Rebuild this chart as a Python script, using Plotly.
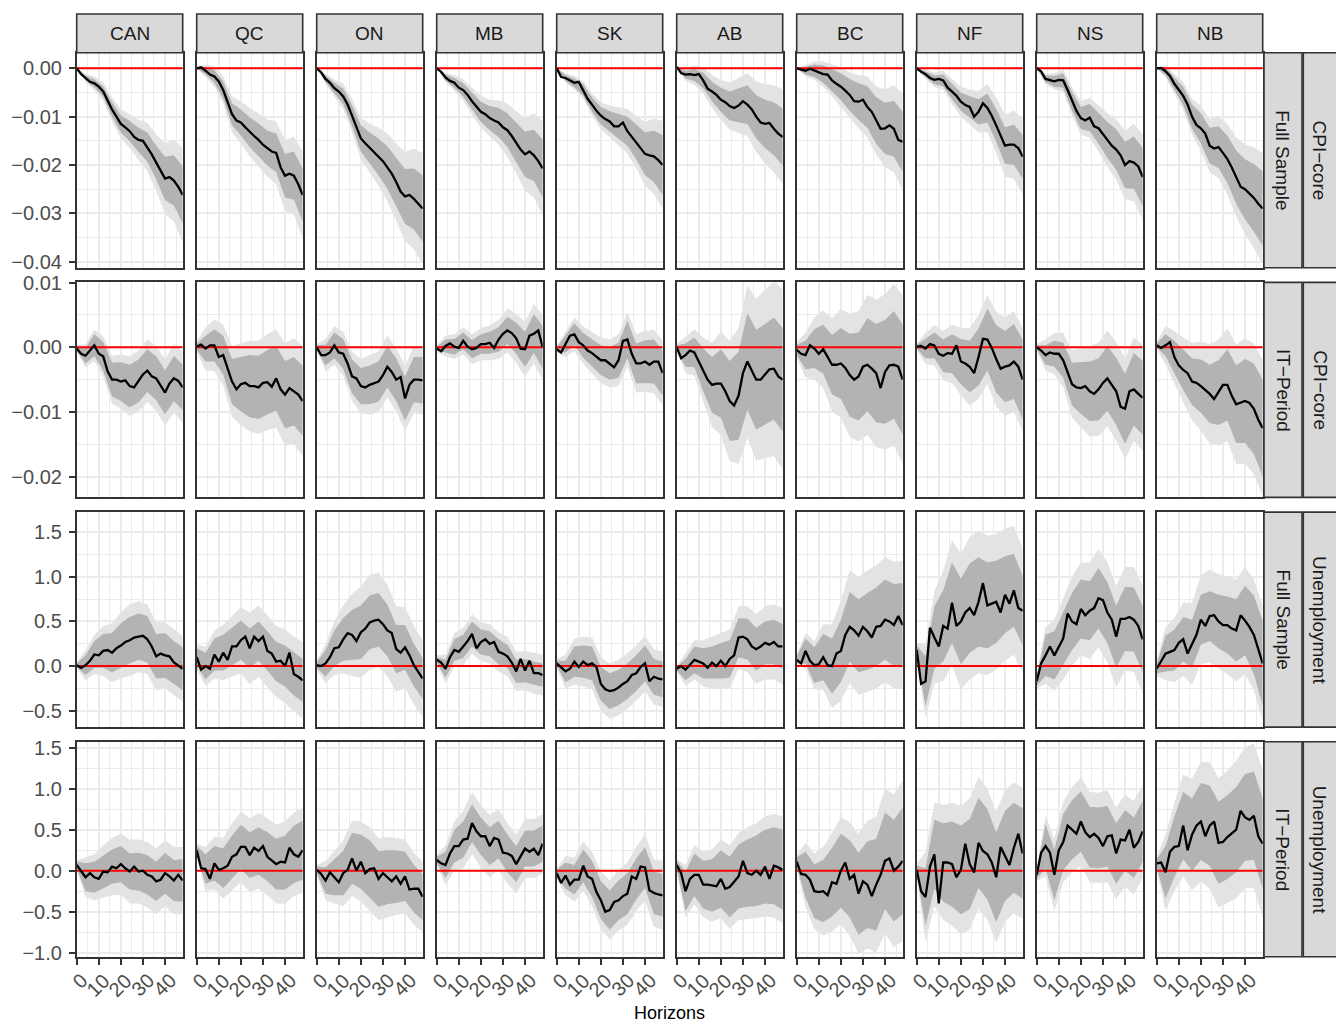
import plotly.graph_objects as go

# ---------------------------------------------------------------- data
HORIZONS = list(range(0, 49, 2))        # line points
BAND_HORIZONS = list(range(0, 49, 4))   # band points
REGIONS = ["CAN", "QC", "ON", "MB", "SK", "AB", "BC", "NF", "NS", "NB"]
ROW_VARIABLE = ["CPI\u2212core", "CPI\u2212core", "Unemployment", "Unemployment"]
ROW_SAMPLE = ["Full Sample", "IT\u2212Period", "Full Sample", "IT\u2212Period"]
X_TICKS = [0, 10, 20, 30, 40]
REF_LEVEL = 0.0
X_TITLE = "Horizons"

# ---- CPI-core, Full Sample
CPI_FULL_LINE = dict(
    CAN=[0, -0.0012, -0.0020, -0.0028, -0.0031, -0.0038, -0.0048, -0.0068, -0.0085, -0.0100, -0.0115, -0.0122, -0.0130, -0.0142, -0.0148, -0.0150, -0.0163, -0.0178, -0.0195, -0.0212, -0.0228, -0.0225, -0.0232, -0.0245, -0.0262],
    QC=[0, 0.0002, -0.0005, -0.0013, -0.0017, -0.0027, -0.0045, -0.0070, -0.0095, -0.0108, -0.0112, -0.0122, -0.0132, -0.0140, -0.0148, -0.0158, -0.0165, -0.0172, -0.0175, -0.0205, -0.0222, -0.0218, -0.0222, -0.0240, -0.0262],
    ON=[0, -0.0008, -0.0022, -0.0030, -0.0041, -0.0048, -0.0058, -0.0075, -0.0098, -0.0120, -0.0145, -0.0155, -0.0165, -0.0175, -0.0183, -0.0192, -0.0205, -0.0218, -0.0235, -0.0255, -0.0265, -0.0262, -0.0270, -0.0280, -0.0290],
    MB=[0, -0.0007, -0.0019, -0.0026, -0.0030, -0.0040, -0.0045, -0.0055, -0.0068, -0.0080, -0.0090, -0.0095, -0.0103, -0.0108, -0.0112, -0.0122, -0.0128, -0.0140, -0.0153, -0.0168, -0.0178, -0.0172, -0.0180, -0.0192, -0.0207],
    SK=[0, -0.0018, -0.0020, -0.0025, -0.0030, -0.0028, -0.0045, -0.0063, -0.0075, -0.0088, -0.0098, -0.0105, -0.0110, -0.0120, -0.0120, -0.0112, -0.0130, -0.0142, -0.0152, -0.0165, -0.0177, -0.0180, -0.0182, -0.0190, -0.0200],
    AB=[0.0003, -0.0010, -0.0013, -0.0012, -0.0014, -0.0012, -0.0025, -0.0042, -0.0048, -0.0055, -0.0065, -0.0070, -0.0078, -0.0082, -0.0077, -0.0068, -0.0075, -0.0085, -0.0100, -0.0112, -0.0115, -0.0113, -0.0125, -0.0135, -0.0142],
    BC=[0, -0.0002, -0.0005, -0.0001, -0.0005, -0.0008, -0.0012, -0.0013, -0.0025, -0.0032, -0.0038, -0.0046, -0.0055, -0.0068, -0.0069, -0.0065, -0.0080, -0.0090, -0.0108, -0.0125, -0.0124, -0.0118, -0.0125, -0.0148, -0.0152],
    NF=[0, -0.0007, -0.0012, -0.0020, -0.0024, -0.0022, -0.0025, -0.0040, -0.0048, -0.0057, -0.0069, -0.0076, -0.0080, -0.0100, -0.0090, -0.0072, -0.0082, -0.0098, -0.0118, -0.0140, -0.0160, -0.0158, -0.0158, -0.0165, -0.0183],
    NS=[0, -0.0006, -0.0022, -0.0025, -0.0027, -0.0024, -0.0025, -0.0045, -0.0068, -0.0088, -0.0103, -0.0108, -0.0102, -0.0120, -0.0124, -0.0135, -0.0148, -0.0160, -0.0168, -0.0180, -0.0200, -0.0192, -0.0195, -0.0203, -0.0225],
    NB=[0, 0.0001, -0.0006, -0.0016, -0.0032, -0.0044, -0.0057, -0.0075, -0.0100, -0.0117, -0.0124, -0.0135, -0.0160, -0.0166, -0.0163, -0.0175, -0.0188, -0.0205, -0.0225, -0.0245, -0.0250, -0.0258, -0.0268, -0.0280, -0.0290],
)
CPI_FULL_INNER = dict(
    CAN=[0, 0.0005, 0.0008, 0.0011, 0.0015, 0.0018, 0.0021, 0.0025, 0.0030, 0.0035, 0.0045, 0.0052, 0.0059],
    QC=[0, 0.0008, 0.0013, 0.0018, 0.0023, 0.0027, 0.0031, 0.0034, 0.0036, 0.0040, 0.0045, 0.0050, 0.0055],
    ON=[0, 0.0006, 0.0011, 0.0016, 0.0022, 0.0027, 0.0032, 0.0038, 0.0044, 0.0050, 0.0057, 0.0063, 0.0069],
    MB=[0, 0.0006, 0.0010, 0.0014, 0.0018, 0.0021, 0.0025, 0.0030, 0.0035, 0.0040, 0.0047, 0.0053, 0.0060],
    SK=[0, 0.0006, 0.0009, 0.0012, 0.0015, 0.0018, 0.0021, 0.0025, 0.0030, 0.0036, 0.0044, 0.0053, 0.0062],
    AB=[0, 0.0008, 0.0012, 0.0016, 0.0020, 0.0025, 0.0030, 0.0035, 0.0040, 0.0045, 0.0050, 0.0055, 0.0059],
    BC=[0, 0.0008, 0.0013, 0.0018, 0.0023, 0.0028, 0.0033, 0.0038, 0.0043, 0.0048, 0.0053, 0.0058, 0.0062],
    NF=[0, 0.0006, 0.0009, 0.0012, 0.0016, 0.0019, 0.0022, 0.0026, 0.0030, 0.0034, 0.0038, 0.0042, 0.0045],
    NS=[0, 0.0007, 0.0011, 0.0015, 0.0019, 0.0023, 0.0028, 0.0032, 0.0037, 0.0042, 0.0048, 0.0054, 0.0060],
    NB=[0, 0.0008, 0.0013, 0.0019, 0.0025, 0.0031, 0.0037, 0.0043, 0.0049, 0.0055, 0.0062, 0.0070, 0.0077],
)
CPI_FULL_OUTER = dict(
    CAN=[0, 0.0009, 0.0014, 0.0019, 0.0025, 0.0030, 0.0035, 0.0042, 0.0050, 0.0058, 0.0073, 0.0085, 0.0097],
    QC=[0, 0.0013, 0.0021, 0.0029, 0.0037, 0.0044, 0.0050, 0.0055, 0.0059, 0.0065, 0.0073, 0.0081, 0.0090],
    ON=[0, 0.0010, 0.0018, 0.0026, 0.0035, 0.0043, 0.0051, 0.0060, 0.0070, 0.0080, 0.0092, 0.0104, 0.0115],
    MB=[0, 0.0010, 0.0016, 0.0022, 0.0028, 0.0033, 0.0038, 0.0046, 0.0055, 0.0064, 0.0076, 0.0087, 0.0098],
    SK=[0, 0.0010, 0.0014, 0.0018, 0.0023, 0.0028, 0.0033, 0.0039, 0.0046, 0.0054, 0.0066, 0.0078, 0.0091],
    AB=[0, 0.0013, 0.0020, 0.0027, 0.0034, 0.0041, 0.0049, 0.0057, 0.0065, 0.0073, 0.0082, 0.0090, 0.0098],
    BC=[0, 0.0012, 0.0019, 0.0026, 0.0033, 0.0040, 0.0047, 0.0055, 0.0063, 0.0071, 0.0080, 0.0090, 0.0100],
    NF=[0, 0.0010, 0.0015, 0.0020, 0.0026, 0.0031, 0.0036, 0.0043, 0.0050, 0.0057, 0.0064, 0.0071, 0.0078],
    NS=[0, 0.0011, 0.0017, 0.0023, 0.0029, 0.0035, 0.0041, 0.0048, 0.0055, 0.0063, 0.0071, 0.0080, 0.0088],
    NB=[0, 0.0012, 0.0020, 0.0029, 0.0037, 0.0046, 0.0055, 0.0064, 0.0073, 0.0082, 0.0093, 0.0104, 0.0115],
)

# ---- CPI-core, IT-Period
CPI_IT_LINE = dict(
    CAN=[-0.0002, -0.0010, -0.0013, -0.0005, 0.0003, -0.0010, -0.0014, -0.0037, -0.0050, -0.0050, -0.0053, -0.0051, -0.0060, -0.0062, -0.0052, -0.0042, -0.0036, -0.0045, -0.0048, -0.0058, -0.0070, -0.0056, -0.0048, -0.0052, -0.0062],
    QC=[0.0001, 0.0004, -0.0002, 0.0003, 0.0003, -0.0015, -0.0012, -0.0032, -0.0053, -0.0065, -0.0057, -0.0055, -0.0060, -0.0060, -0.0062, -0.0055, -0.0054, -0.0061, -0.0048, -0.0065, -0.0073, -0.0063, -0.0068, -0.0073, -0.0083],
    ON=[0, -0.0012, -0.0012, -0.0008, 0.0003, -0.0008, -0.0010, -0.0025, -0.0045, -0.0048, -0.0060, -0.0062, -0.0058, -0.0056, -0.0053, -0.0043, -0.0030, -0.0038, -0.0050, -0.0046, -0.0079, -0.0058, -0.0050, -0.0050, -0.0051],
    MB=[-0.0002, -0.0006, 0.0002, 0.0006, 0.0001, -0.0001, 0.0010, 0.0001, -0.0003, -0.0001, 0.0005, 0.0005, 0.0007, -0.0001, 0.0012, 0.0021, 0.0026, 0.0022, 0.0014, -0.0002, -0.0003, 0.0018, 0.0021, 0.0026, 0.0000],
    SK=[-0.0003, -0.0008, 0.0005, 0.0018, 0.0020, 0.0008, 0.0003, -0.0005, -0.0009, -0.0015, -0.0020, -0.0020, -0.0025, -0.0031, -0.0020, 0.0010, 0.0012, -0.0010, -0.0025, -0.0025, -0.0022, -0.0027, -0.0022, -0.0022, -0.0040],
    AB=[0, -0.0017, -0.0012, -0.0005, -0.0008, -0.0022, -0.0035, -0.0050, -0.0058, -0.0056, -0.0056, -0.0068, -0.0083, -0.0090, -0.0075, -0.0040, -0.0022, -0.0035, -0.0050, -0.0050, -0.0042, -0.0034, -0.0033, -0.0045, -0.0050],
    BC=[-0.0004, -0.0010, -0.0012, 0.0003, -0.0002, -0.0010, -0.0003, -0.0015, -0.0027, -0.0027, -0.0025, -0.0032, -0.0043, -0.0050, -0.0045, -0.0030, -0.0027, -0.0033, -0.0040, -0.0063, -0.0038, -0.0028, -0.0027, -0.0030, -0.0050],
    NF=[0.0001, 0.0002, -0.0002, 0.0005, 0.0003, -0.0010, -0.0013, -0.0009, -0.0010, 0.0003, -0.0022, -0.0025, -0.0030, -0.0040, -0.0015, 0.0013, 0.0012, -0.0001, -0.0018, -0.0033, -0.0030, -0.0028, -0.0022, -0.0030, -0.0050],
    NS=[0, -0.0005, -0.0012, -0.0008, -0.0010, -0.0010, -0.0020, -0.0040, -0.0057, -0.0062, -0.0063, -0.0060, -0.0068, -0.0072, -0.0065, -0.0055, -0.0048, -0.0058, -0.0068, -0.0092, -0.0095, -0.0068, -0.0065, -0.0072, -0.0078],
    NB=[0.0003, -0.0001, 0.0003, 0.0008, -0.0015, -0.0028, -0.0035, -0.0040, -0.0053, -0.0055, -0.0060, -0.0066, -0.0072, -0.0080, -0.0070, -0.0058, -0.0058, -0.0075, -0.0088, -0.0085, -0.0083, -0.0086, -0.0095, -0.0112, -0.0125],
)
CPI_IT_INNER = dict(
    CAN=[0.0003, 0.0012, 0.0017, 0.0022, 0.0026, 0.0030, 0.0033, 0.0033, 0.0033, 0.0034, 0.0034, 0.0035, 0.0035],
    QC=[0.0005, 0.0020, 0.0025, 0.0030, 0.0035, 0.0042, 0.0048, 0.0049, 0.0050, 0.0050, 0.0052, 0.0053, 0.0054],
    ON=[0.0003, 0.0016, 0.0020, 0.0023, 0.0026, 0.0028, 0.0030, 0.0031, 0.0032, 0.0033, 0.0034, 0.0035, 0.0036],
    MB=[0.0003, 0.0010, 0.0012, 0.0013, 0.0014, 0.0015, 0.0017, 0.0019, 0.0021, 0.0024, 0.0027, 0.0030, 0.0033],
    SK=[0.0003, 0.0013, 0.0017, 0.0019, 0.0021, 0.0023, 0.0025, 0.0027, 0.0029, 0.0031, 0.0033, 0.0034, 0.0035],
    AB=[0.0003, 0.0018, 0.0023, 0.0033, 0.0043, 0.0053, 0.0062, 0.0068, 0.0075, 0.0077, 0.0078, 0.0079, 0.0080],
    BC=[0.0008, 0.0022, 0.0030, 0.0038, 0.0046, 0.0055, 0.0064, 0.0068, 0.0072, 0.0076, 0.0080, 0.0083, 0.0085],
    NF=[0.0003, 0.0015, 0.0020, 0.0025, 0.0030, 0.0035, 0.0040, 0.0044, 0.0048, 0.0052, 0.0055, 0.0058, 0.0062],
    NS=[0.0003, 0.0015, 0.0020, 0.0027, 0.0033, 0.0040, 0.0046, 0.0048, 0.0050, 0.0052, 0.0054, 0.0056, 0.0057],
    NB=[0.0003, 0.0017, 0.0025, 0.0031, 0.0036, 0.0041, 0.0045, 0.0050, 0.0055, 0.0060, 0.0065, 0.0070, 0.0075],
)
CPI_IT_OUTER = dict(
    CAN=[0.0005, 0.0018, 0.0024, 0.0031, 0.0037, 0.0042, 0.0046, 0.0047, 0.0048, 0.0050, 0.0051, 0.0053, 0.0055],
    QC=[0.0008, 0.0033, 0.0040, 0.0047, 0.0055, 0.0063, 0.0070, 0.0072, 0.0074, 0.0076, 0.0079, 0.0082, 0.0085],
    ON=[0.0005, 0.0025, 0.0030, 0.0034, 0.0038, 0.0042, 0.0046, 0.0047, 0.0048, 0.0049, 0.0050, 0.0052, 0.0053],
    MB=[0.0005, 0.0016, 0.0019, 0.0021, 0.0023, 0.0025, 0.0027, 0.0030, 0.0034, 0.0038, 0.0042, 0.0046, 0.0050],
    SK=[0.0005, 0.0020, 0.0026, 0.0029, 0.0032, 0.0035, 0.0037, 0.0040, 0.0042, 0.0045, 0.0047, 0.0049, 0.0050],
    AB=[0.0005, 0.0028, 0.0036, 0.0050, 0.0065, 0.0080, 0.0093, 0.0105, 0.0118, 0.0125, 0.0130, 0.0135, 0.0139],
    BC=[0.0012, 0.0035, 0.0048, 0.0060, 0.0072, 0.0084, 0.0095, 0.0101, 0.0108, 0.0114, 0.0120, 0.0125, 0.0130],
    NF=[0.0005, 0.0024, 0.0031, 0.0038, 0.0045, 0.0052, 0.0060, 0.0065, 0.0069, 0.0073, 0.0076, 0.0078, 0.0080],
    NS=[0.0005, 0.0024, 0.0032, 0.0042, 0.0052, 0.0061, 0.0070, 0.0072, 0.0074, 0.0076, 0.0078, 0.0080, 0.0082],
    NB=[0.0005, 0.0030, 0.0040, 0.0050, 0.0060, 0.0069, 0.0077, 0.0082, 0.0087, 0.0092, 0.0097, 0.0101, 0.0105],
)

# ---- Unemployment, Full Sample
UNEMP_FULL_LINE = dict(
    CAN=[0.01, -0.02, 0.01, 0.06, 0.13, 0.12, 0.17, 0.18, 0.15, 0.20, 0.23, 0.27, 0.29, 0.32, 0.33, 0.34, 0.30, 0.22, 0.11, 0.14, 0.12, 0.11, 0.04, 0.00, -0.03],
    QC=[0.10, -0.04, 0.00, -0.03, 0.13, 0.05, 0.15, 0.07, 0.22, 0.22, 0.29, 0.33, 0.20, 0.33, 0.28, 0.33, 0.17, 0.14, 0.05, 0.06, 0.00, 0.15, -0.09, -0.12, -0.16],
    ON=[0.01, 0.00, 0.03, 0.10, 0.20, 0.21, 0.30, 0.37, 0.35, 0.28, 0.38, 0.42, 0.49, 0.51, 0.52, 0.47, 0.40, 0.37, 0.19, 0.15, 0.21, 0.12, 0.01, -0.06, -0.14],
    MB=[0.07, 0.04, -0.03, 0.10, 0.18, 0.16, 0.22, 0.28, 0.36, 0.20, 0.27, 0.30, 0.25, 0.27, 0.16, 0.14, 0.11, 0.04, -0.06, 0.08, -0.05, 0.06, -0.08, -0.08, -0.10],
    SK=[0.03, -0.02, -0.06, -0.03, 0.05, -0.01, 0.05, 0.01, 0.03, -0.01, -0.20, -0.26, -0.28, -0.27, -0.24, -0.20, -0.17, -0.10, -0.08, -0.01, 0.03, -0.17, -0.12, -0.14, -0.15],
    AB=[-0.03, 0.00, -0.04, 0.02, 0.07, 0.05, 0.03, -0.02, 0.04, 0.00, 0.06, 0.00, 0.08, 0.12, 0.32, 0.33, 0.30, 0.22, 0.19, 0.22, 0.26, 0.24, 0.27, 0.22, 0.22],
    BC=[0.07, 0.03, 0.17, 0.06, 0.01, 0.02, 0.10, 0.01, 0.00, 0.14, 0.17, 0.35, 0.44, 0.40, 0.34, 0.44, 0.39, 0.32, 0.44, 0.45, 0.52, 0.50, 0.46, 0.56, 0.46],
    NF=[0.18, -0.20, -0.17, 0.43, 0.32, 0.22, 0.45, 0.42, 0.71, 0.45, 0.50, 0.60, 0.65, 0.57, 0.72, 0.93, 0.68, 0.70, 0.72, 0.60, 0.80, 0.70, 0.85, 0.65, 0.62],
    NS=[-0.17, 0.03, 0.12, 0.22, 0.12, 0.21, 0.31, 0.59, 0.50, 0.47, 0.64, 0.57, 0.62, 0.65, 0.76, 0.74, 0.60, 0.52, 0.33, 0.53, 0.53, 0.55, 0.52, 0.45, 0.30],
    NB=[-0.03, 0.05, 0.14, 0.16, 0.18, 0.26, 0.30, 0.14, 0.25, 0.35, 0.52, 0.45, 0.56, 0.57, 0.50, 0.46, 0.46, 0.42, 0.40, 0.57, 0.51, 0.44, 0.35, 0.19, 0.03],
)
UNEMP_FULL_INNER = dict(
    CAN=[0.02, 0.11, 0.15, 0.19, 0.22, 0.25, 0.26, 0.26, 0.26, 0.25, 0.25, 0.24, 0.24],
    QC=[0.10, 0.15, 0.18, 0.20, 0.21, 0.22, 0.22, 0.22, 0.22, 0.22, 0.23, 0.24, 0.24],
    ON=[0.03, 0.15, 0.20, 0.24, 0.28, 0.30, 0.30, 0.30, 0.29, 0.27, 0.25, 0.24, 0.23],
    MB=[0.03, 0.10, 0.12, 0.13, 0.14, 0.14, 0.14, 0.14, 0.13, 0.13, 0.13, 0.13, 0.13],
    SK=[0.03, 0.12, 0.17, 0.18, 0.19, 0.19, 0.20, 0.20, 0.20, 0.20, 0.20, 0.20, 0.20],
    AB=[0.02, 0.12, 0.15, 0.17, 0.18, 0.20, 0.21, 0.22, 0.23, 0.24, 0.24, 0.25, 0.25],
    BC=[0.04, 0.14, 0.20, 0.26, 0.31, 0.35, 0.39, 0.41, 0.43, 0.44, 0.45, 0.46, 0.47],
    NF=[0.05, 0.28, 0.35, 0.40, 0.45, 0.48, 0.50, 0.50, 0.48, 0.46, 0.43, 0.41, 0.39],
    NS=[0.05, 0.23, 0.27, 0.30, 0.32, 0.33, 0.33, 0.34, 0.34, 0.35, 0.36, 0.36, 0.37],
    NB=[0.05, 0.20, 0.23, 0.25, 0.27, 0.28, 0.28, 0.30, 0.32, 0.35, 0.39, 0.44, 0.48],
)
UNEMP_FULL_OUTER = dict(
    CAN=[0.03, 0.17, 0.22, 0.28, 0.33, 0.37, 0.40, 0.40, 0.39, 0.38, 0.37, 0.37, 0.37],
    QC=[0.14, 0.22, 0.27, 0.31, 0.34, 0.37, 0.40, 0.40, 0.40, 0.40, 0.41, 0.42, 0.43],
    ON=[0.05, 0.22, 0.30, 0.38, 0.46, 0.51, 0.53, 0.53, 0.51, 0.48, 0.45, 0.44, 0.43],
    MB=[0.05, 0.16, 0.19, 0.21, 0.22, 0.22, 0.22, 0.22, 0.22, 0.22, 0.22, 0.23, 0.23],
    SK=[0.05, 0.19, 0.26, 0.28, 0.29, 0.30, 0.31, 0.31, 0.31, 0.31, 0.31, 0.31, 0.31],
    AB=[0.03, 0.18, 0.22, 0.26, 0.29, 0.31, 0.33, 0.35, 0.37, 0.39, 0.41, 0.42, 0.43],
    BC=[0.06, 0.20, 0.27, 0.37, 0.47, 0.56, 0.63, 0.66, 0.68, 0.69, 0.70, 0.71, 0.72],
    NF=[0.08, 0.41, 0.52, 0.62, 0.70, 0.76, 0.80, 0.80, 0.78, 0.76, 0.74, 0.72, 0.70],
    NS=[0.08, 0.32, 0.40, 0.46, 0.50, 0.52, 0.54, 0.55, 0.56, 0.57, 0.58, 0.59, 0.60],
    NB=[0.08, 0.30, 0.36, 0.41, 0.46, 0.50, 0.52, 0.53, 0.55, 0.57, 0.60, 0.62, 0.65],
)

# ---- Unemployment, IT-Period
UNEMP_IT_LINE = dict(
    CAN=[0.07, 0.00, -0.08, -0.03, -0.08, -0.10, -0.01, -0.02, 0.05, 0.03, 0.08, 0.03, -0.01, 0.05, -0.01, 0.00, -0.05, -0.07, -0.13, -0.11, -0.03, -0.07, -0.12, -0.05, -0.12],
    QC=[0.25, 0.03, 0.02, -0.10, 0.09, 0.01, 0.03, 0.06, 0.17, 0.20, 0.29, 0.29, 0.19, 0.28, 0.24, 0.30, 0.17, 0.13, 0.08, 0.11, 0.10, 0.28, 0.20, 0.17, 0.25],
    ON=[0.01, -0.04, -0.12, -0.02, -0.08, -0.14, -0.03, 0.01, 0.15, 0.00, 0.11, -0.03, 0.02, 0.03, -0.10, -0.03, -0.08, -0.13, -0.07, -0.16, -0.07, -0.23, -0.22, -0.22, -0.32],
    MB=[0.13, 0.09, 0.07, 0.21, 0.30, 0.30, 0.38, 0.39, 0.58, 0.48, 0.42, 0.42, 0.30, 0.40, 0.38, 0.22, 0.21, 0.18, 0.08, 0.17, 0.27, 0.23, 0.27, 0.19, 0.33],
    SK=[-0.03, -0.15, -0.06, -0.17, -0.11, -0.11, 0.06, -0.07, -0.10, -0.26, -0.36, -0.50, -0.48, -0.38, -0.36, -0.31, -0.28, -0.07, -0.10, 0.05, 0.04, -0.24, -0.27, -0.29, -0.30],
    AB=[0.07, -0.03, -0.25, -0.10, -0.05, -0.05, -0.17, -0.17, -0.18, -0.19, -0.10, -0.22, -0.20, -0.14, -0.07, 0.12, -0.03, -0.05, 0.00, -0.05, 0.05, -0.10, 0.06, 0.04, 0.01],
    BC=[0.11, -0.04, -0.05, -0.11, -0.25, -0.26, -0.25, -0.30, -0.14, -0.16, 0.00, 0.10, -0.10, -0.05, -0.28, -0.13, -0.17, -0.31, -0.17, -0.05, 0.12, 0.15, 0.00, 0.05, 0.12],
    NF=[0.01, -0.25, -0.32, 0.05, 0.20, -0.40, 0.10, 0.10, 0.08, -0.08, 0.01, 0.33, 0.08, -0.02, 0.34, 0.24, 0.20, 0.10, -0.08, 0.29, 0.18, 0.07, 0.28, 0.45, 0.21],
    NS=[-0.05, 0.22, 0.30, 0.22, -0.05, 0.25, 0.35, 0.55, 0.50, 0.45, 0.60, 0.47, 0.41, 0.45, 0.40, 0.30, 0.42, 0.43, 0.21, 0.38, 0.37, 0.50, 0.28, 0.35, 0.48],
    NB=[0.09, 0.10, -0.02, 0.23, 0.29, 0.30, 0.55, 0.25, 0.44, 0.55, 0.60, 0.42, 0.55, 0.60, 0.34, 0.35, 0.41, 0.46, 0.50, 0.73, 0.65, 0.62, 0.67, 0.42, 0.33],
)
UNEMP_IT_INNER = dict(
    CAN=[0.04, 0.17, 0.19, 0.20, 0.21, 0.22, 0.22, 0.23, 0.24, 0.24, 0.25, 0.25, 0.26],
    QC=[0.05, 0.18, 0.21, 0.24, 0.26, 0.27, 0.28, 0.29, 0.30, 0.31, 0.33, 0.35, 0.36],
    ON=[0.04, 0.16, 0.22, 0.27, 0.31, 0.33, 0.35, 0.34, 0.33, 0.32, 0.30, 0.29, 0.28],
    MB=[0.04, 0.16, 0.20, 0.22, 0.23, 0.23, 0.23, 0.23, 0.23, 0.22, 0.22, 0.22, 0.22],
    SK=[0.04, 0.16, 0.18, 0.20, 0.22, 0.23, 0.24, 0.24, 0.25, 0.25, 0.25, 0.26, 0.26],
    AB=[0.05, 0.24, 0.26, 0.29, 0.32, 0.35, 0.37, 0.39, 0.41, 0.43, 0.45, 0.47, 0.49],
    BC=[0.05, 0.28, 0.33, 0.38, 0.42, 0.45, 0.47, 0.50, 0.53, 0.56, 0.59, 0.62, 0.65],
    NF=[0.05, 0.35, 0.42, 0.48, 0.52, 0.54, 0.55, 0.55, 0.55, 0.55, 0.55, 0.55, 0.55],
    NS=[0.05, 0.27, 0.31, 0.34, 0.36, 0.37, 0.37, 0.37, 0.37, 0.37, 0.37, 0.37, 0.37],
    NB=[0.05, 0.32, 0.37, 0.41, 0.44, 0.47, 0.49, 0.50, 0.51, 0.52, 0.53, 0.54, 0.55],
)
UNEMP_IT_OUTER = dict(
    CAN=[0.06, 0.24, 0.28, 0.32, 0.35, 0.37, 0.39, 0.39, 0.40, 0.40, 0.40, 0.41, 0.41],
    QC=[0.08, 0.27, 0.32, 0.37, 0.41, 0.43, 0.45, 0.46, 0.47, 0.48, 0.50, 0.51, 0.52],
    ON=[0.06, 0.24, 0.32, 0.40, 0.46, 0.49, 0.51, 0.50, 0.49, 0.47, 0.45, 0.44, 0.43],
    MB=[0.06, 0.24, 0.30, 0.35, 0.38, 0.38, 0.38, 0.37, 0.37, 0.36, 0.36, 0.36, 0.36],
    SK=[0.06, 0.24, 0.27, 0.30, 0.33, 0.35, 0.36, 0.37, 0.38, 0.39, 0.40, 0.41, 0.42],
    AB=[0.07, 0.32, 0.36, 0.40, 0.44, 0.48, 0.51, 0.53, 0.56, 0.58, 0.61, 0.63, 0.65],
    BC=[0.08, 0.39, 0.46, 0.54, 0.60, 0.65, 0.69, 0.73, 0.78, 0.83, 0.88, 0.93, 0.98],
    NF=[0.08, 0.55, 0.63, 0.70, 0.75, 0.78, 0.80, 0.80, 0.80, 0.80, 0.80, 0.80, 0.80],
    NS=[0.08, 0.37, 0.44, 0.49, 0.52, 0.54, 0.55, 0.55, 0.56, 0.56, 0.56, 0.57, 0.57],
    NB=[0.08, 0.46, 0.54, 0.62, 0.68, 0.73, 0.77, 0.79, 0.81, 0.84, 0.86, 0.88, 0.90],
)

ROWS = [
    (CPI_FULL_LINE, CPI_FULL_INNER, CPI_FULL_OUTER),
    (CPI_IT_LINE, CPI_IT_INNER, CPI_IT_OUTER),
    (UNEMP_FULL_LINE, UNEMP_FULL_INNER, UNEMP_FULL_OUTER),
    (UNEMP_IT_LINE, UNEMP_IT_INNER, UNEMP_IT_OUTER),
]

# ---------------------------------------------------------------- style / geometry
FIG_W, FIG_H = 1336, 1024
PANEL_X0, COL_STEP, PANEL_W = 76.7, 120.0, 106.0
PANEL_Y0, ROW_STEP, PANEL_H = 52.7, 229.7, 215.0
STRIP_TOP = 14.0
INNER_STRIP = (1264.0, 1302.0)
OUTER_STRIP = (1303.3, 1338.0)

X_RANGE = [0, 48]
Y_RANGES = [[-0.04124, 0.00323], [-0.0232, 0.01003], [-0.684, 1.726], [-1.05, 1.572]]
Y_DTICK = [0.01, 0.01, 0.5, 0.5]
Y_FMT = [".2f", ".2f", ".1f", ".1f"]

GRID = "#EBEBEB"
BORDER = "#333333"
STRIP_FILL = "#D9D9D9"
LIGHT = "#E3E3E3"
DARK = "#B3B3B3"
FONT = "Liberation Sans, Arial, Helvetica, sans-serif"
TICK_FONT = dict(family=FONT, size=20, color="#4D4D4D")
STRIP_FONT = dict(family=FONT, size=19, color="#1A1A1A")


def px_x(x):
    return x / FIG_W


def px_y(y):
    return 1 - y / FIG_H


fig = go.Figure()
layout_axes = {}
shapes = []
annotations = []

for r, (line_d, inner_d, outer_d) in enumerate(ROWS):
    top = PANEL_Y0 + r * ROW_STEP
    for c, reg in enumerate(REGIONS):
        k = r * 10 + c + 1
        xname = "x" if k == 1 else f"x{k}"
        yname = "y" if k == 1 else f"y{k}"
        left = PANEL_X0 + c * COL_STEP

        vals = line_d[reg]
        inn = inner_d[reg]
        out = outer_d[reg]
        assert len(vals) == len(HORIZONS), (r, reg)
        assert len(inn) == len(BAND_HORIZONS) and len(out) == len(BAND_HORIZONS), (r, reg)
        centers = [vals[HORIZONS.index(h)] for h in BAND_HORIZONS]

        for widths, color in ((out, LIGHT), (inn, DARK)):
            upper = [m + w for m, w in zip(centers, widths)]
            lower = [m - w for m, w in zip(centers, widths)]
            fig.add_trace(go.Scatter(
                x=BAND_HORIZONS + BAND_HORIZONS[::-1],
                y=upper + lower[::-1],
                fill="toself", fillcolor=color, mode="lines",
                line=dict(width=0, color=color),
                hoverinfo="skip", showlegend=False,
                xaxis=xname, yaxis=yname))
        fig.add_trace(go.Scatter(
            x=[HORIZONS[0], HORIZONS[-1]], y=[REF_LEVEL, REF_LEVEL],
            mode="lines", line=dict(color="#FF0000", width=2),
            hoverinfo="skip", showlegend=False, xaxis=xname, yaxis=yname))
        fig.add_trace(go.Scatter(
            x=HORIZONS, y=vals, mode="lines",
            line=dict(color="#000000", width=2.3),
            showlegend=False, xaxis=xname, yaxis=yname))

        xkey = "xaxis" if k == 1 else f"xaxis{k}"
        ykey = "yaxis" if k == 1 else f"yaxis{k}"
        layout_axes[xkey] = dict(
            domain=[px_x(left), px_x(left + PANEL_W)], range=X_RANGE, anchor=yname,
            automargin=False,
            tickmode="linear", tick0=0, dtick=10,
            showgrid=True, gridcolor=GRID, gridwidth=1.8,
            minor=dict(tick0=0, dtick=5, showgrid=True, gridcolor=GRID, gridwidth=0.9),
            zeroline=False, showline=True, mirror=True, linecolor=BORDER, linewidth=1.6,
            ticks="outside" if r == 3 else "", ticklen=6, tickwidth=1.6, tickcolor=BORDER,
            showticklabels=False, fixedrange=True)
        layout_axes[ykey] = dict(
            domain=[px_y(top + PANEL_H), px_y(top)], range=Y_RANGES[r], anchor=xname,
            automargin=False,
            tickmode="linear", tick0=0, dtick=Y_DTICK[r], tickformat=Y_FMT[r],
            showgrid=True, gridcolor=GRID, gridwidth=1.8,
            minor=dict(tick0=0, dtick=Y_DTICK[r] / 2, showgrid=True, gridcolor=GRID, gridwidth=0.9),
            zeroline=False, showline=True, mirror=True, linecolor=BORDER, linewidth=1.6,
            ticks="outside" if c == 0 else "", ticklen=6, tickwidth=1.6, tickcolor=BORDER,
            showticklabels=(c == 0), tickfont=TICK_FONT, ticklabelstandoff=3,
            fixedrange=True)

        # rotated x tick labels under the bottom row
        if r == 3:
            for t in X_TICKS:
                annotations.append(dict(
                    x=t, xref=xname, y=px_y(967), yref="paper",
                    text=str(t), textangle=-45, showarrow=False,
                    xanchor="right", yanchor="top", xshift=18,
                    font=TICK_FONT))

        # top strip (first row only)
        if r == 0:
            shapes.append(dict(type="rect", xref="paper", yref="paper",
                               x0=px_x(left), x1=px_x(left + PANEL_W),
                               y0=px_y(top), y1=px_y(STRIP_TOP),
                               fillcolor=STRIP_FILL, line=dict(color=BORDER, width=1.6)))
            annotations.append(dict(x=px_x(left + PANEL_W / 2), y=px_y((STRIP_TOP + top) / 2),
                                    xref="paper", yref="paper", text=reg, showarrow=False,
                                    xanchor="center", yanchor="middle", font=STRIP_FONT))

    # right-hand strips
    for (x0, x1), label in ((INNER_STRIP, ROW_SAMPLE[r]), (OUTER_STRIP, ROW_VARIABLE[r])):
        shapes.append(dict(type="rect", xref="paper", yref="paper",
                           x0=px_x(x0), x1=px_x(x1), y0=px_y(top + PANEL_H), y1=px_y(top),
                           fillcolor=STRIP_FILL, line=dict(color=BORDER, width=1.6)))
        annotations.append(dict(x=px_x((x0 + min(x1, FIG_W)) / 2), y=px_y(top + PANEL_H / 2),
                                xref="paper", yref="paper", text=label, textangle=90,
                                showarrow=False, xanchor="center", yanchor="middle",
                                font=STRIP_FONT))

annotations.append(dict(x=px_x(PANEL_X0 + (9 * COL_STEP + PANEL_W) / 2), y=px_y(1013),
                        xref="paper", yref="paper", text=X_TITLE, showarrow=False,
                        xanchor="center", yanchor="middle",
                        font=dict(family=FONT, size=18, color="#000000")))

fig.update_layout(
    width=FIG_W, height=FIG_H, autosize=False,
    margin=dict(l=0, r=0, t=0, b=0, pad=0, autoexpand=False),
    paper_bgcolor="white", plot_bgcolor="white",
    showlegend=False, font=dict(family=FONT),
    title=dict(text="", automargin=False),
    shapes=shapes, annotations=annotations,
    **layout_axes)

# place the figure at the page origin (no body margin / stray line box)
PAGE_FIX = """
var gd = document.getElementById('{plot_id}');
var wrap = gd.parentNode;
document.documentElement.style.margin = '0';
document.documentElement.style.padding = '0';
document.documentElement.style.overflow = 'hidden';
document.body.style.margin = '0';
document.body.style.padding = '0';
document.body.style.overflow = 'hidden';
document.body.insertBefore(gd, document.body.firstChild);
if (wrap && wrap !== document.body) { wrap.style.display = 'none'; }
"""

fig.write_html("out.html", post_script=PAGE_FIX, config={"displayModeBar": False})
